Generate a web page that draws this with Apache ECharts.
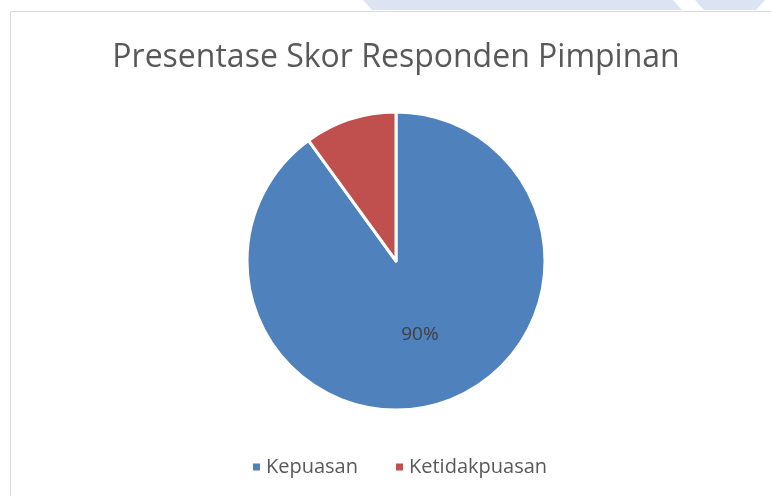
<!DOCTYPE html>
<html>
<head>
<meta charset="utf-8">
<script src="https://cdn.jsdelivr.net/npm/echarts@6/dist/echarts.min.js"></script>
<style>
  html, body { margin: 0; padding: 0; background: #ffffff; }
  #chart { width: 771px; height: 496px; }
</style>
</head>
<body>
<div id="chart"></div>
<script>
// Chart data
const titleText = 'Presentase Skor Responden Pimpinan';
const categories = ['Kepuasan', 'Ketidakpuasan'];
const values = [90, 10];
const colors = ['#4f81bd', '#c0504d'];

const chart = echarts.init(document.getElementById('chart'), null, { renderer: 'canvas' });

const pieData = categories.map((name, i) => ({
  name: name,
  value: values[i],
  itemStyle: { color: colors[i] },
  label: { show: i === 0 }
}));

chart.setOption({
  animation: false,
  backgroundColor: '#ffffff',
  graphic: [
    // light band along the top edge
    { type: 'polygon', silent: true,
      shape: { points: [[363, 0], [673, 0], [682, 10], [372, 10]] },
      style: { fill: '#dce3f2' } },
    { type: 'polygon', silent: true,
      shape: { points: [[695, 0], [765, 0], [756, 10], [704, 10]] },
      style: { fill: '#dce3f2' } },
    // chart area frame
    { type: 'rect', silent: true,
      shape: { x: 10.5, y: 11.5, width: 800, height: 520 },
      style: { fill: 'none', stroke: '#d9d9d9', lineWidth: 1 } },
    // chart title
    { type: 'text', silent: true,
      x: 396, y: 58,
      style: {
        text: titleText,
        align: 'center',
        verticalAlign: 'middle',
        fontFamily: 'Open Sans',
        fontSize: 32,
        fill: '#595959'
      } }
  ],
  legend: {
    data: categories,
    left: 246,
    top: 452,
    icon: 'rect',
    itemWidth: 9,
    itemHeight: 9,
    itemGap: 36,
    textStyle: {
      fontFamily: 'Open Sans',
      fontSize: 20,
      color: '#595959'
    }
  },
  series: [{
    type: 'pie',
    center: [396, 261],
    radius: [0, 149],
    startAngle: 90,
    clockwise: true,
    itemStyle: { borderColor: '#ffffff', borderWidth: 3 },
    label: {
      position: 'inside',
      formatter: '{d}%',
      fontFamily: 'Open Sans',
      fontSize: 19,
      color: '#404040'
    },
    labelLine: { show: false },
    emphasis: { disabled: true },
    data: pieData
  }]
});
</script>
</body>
</html>
